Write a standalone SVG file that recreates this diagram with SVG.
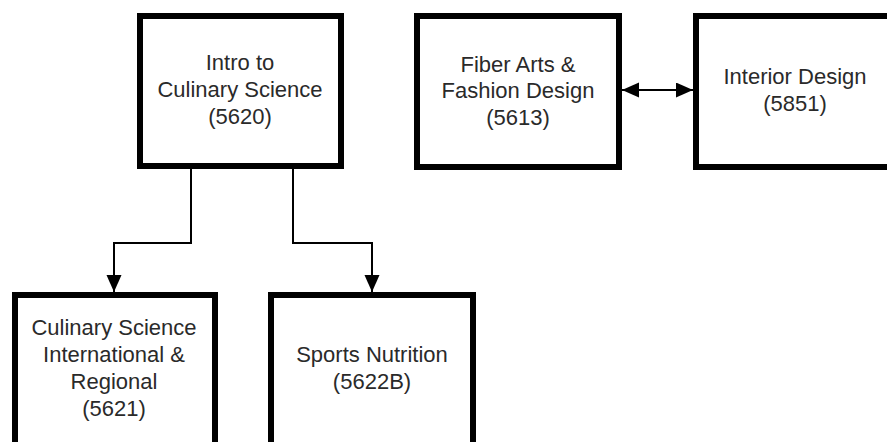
<svg xmlns="http://www.w3.org/2000/svg" width="887" height="442" viewBox="0 0 887 442">
<style>
.box{fill:#fff;stroke:#000;stroke-width:6}
.t{font-family:"Liberation Sans",Arial,sans-serif;font-size:22px;fill:#2a2a2a;text-anchor:middle}
.c{fill:none;stroke:#000;stroke-width:2}
</style>
<defs>
<marker id="ah" markerUnits="userSpaceOnUse" markerWidth="18" markerHeight="16" refX="17" refY="7.5" orient="auto-start-reverse" viewBox="0 0 18 16">
<path d="M0,0 L17,7.5 L0,15 z" fill="#000"/>
</marker>
</defs>
<rect width="887" height="442" fill="#fff"/>
<g id="connectors">
<path class="c" d="M191,168 V243 H114 V292" marker-end="url(#ah)"/>
<path class="c" d="M293,168 V243 H372 V292" marker-end="url(#ah)"/>
<path class="c" d="M622,90 H693" marker-start="url(#ah)" marker-end="url(#ah)"/>
</g>
<g id="n5620">
<rect class="box" x="140" y="16" width="201" height="150"/>
<text class="t" x="240" y="70">Intro to</text>
<text class="t" x="240" y="97">Culinary Science</text>
<text class="t" x="240" y="124">(5620)</text>
</g>
<g id="n5613">
<rect class="box" x="417" y="16" width="202" height="151"/>
<text class="t" x="518" y="72">Fiber Arts &amp;</text>
<text class="t" x="518" y="98">Fashion Design</text>
<text class="t" x="518" y="125">(5613)</text>
</g>
<g id="n5851">
<rect class="box" x="696" y="16" width="210" height="151"/>
<text class="t" x="795" y="84">Interior Design</text>
<text class="t" x="795" y="111">(5851)</text>
</g>
<g id="n5621">
<rect class="box" x="15" y="295" width="200" height="170"/>
<text class="t" x="114" y="335">Culinary Science</text>
<text class="t" x="114" y="362">International &amp;</text>
<text class="t" x="114" y="389">Regional</text>
<text class="t" x="114" y="416">(5621)</text>
</g>
<g id="n5622B">
<rect class="box" x="271" y="295" width="202" height="170"/>
<text class="t" x="372" y="362">Sports Nutrition</text>
<text class="t" x="372" y="389">(5622B)</text>
</g>
</svg>
